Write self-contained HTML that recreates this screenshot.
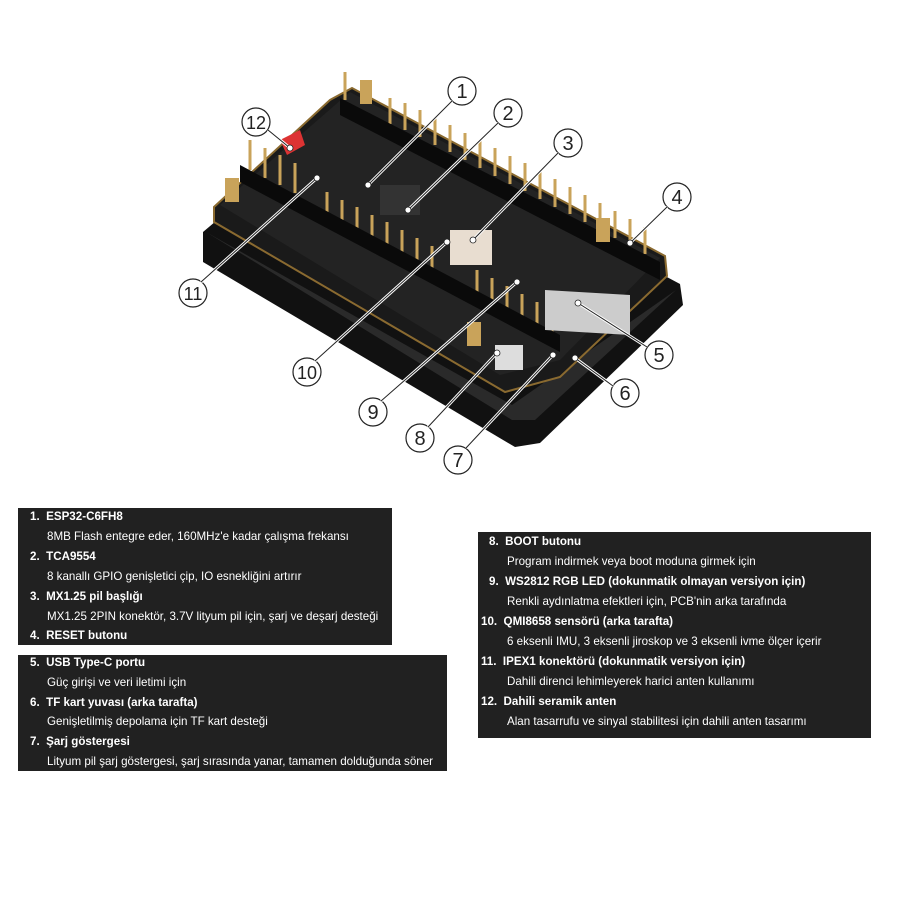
<!DOCTYPE html>
<html><head><meta charset="utf-8"><style>
body{margin:0;width:900px;height:900px;background:#fff;position:relative;overflow:hidden;font-family:"Liberation Sans",sans-serif}
.box{position:absolute;background:#212121}
.t{position:absolute;color:#fff;font-size:11.6px;white-space:nowrap;line-height:14px}
.b{font-weight:bold}
</style></head><body>
<svg width="900" height="500" style="position:absolute;left:0;top:0">
<polygon points="203,232 203,262 515,447 540,443 683,305 680,284 350,108" fill="#111"/>
<polygon points="206,232 512,420 535,420 676,290 512,405" fill="#2a2a2a"/>
<polygon points="214,207 214,222 505,392 560,377 667,276 665,256 352,88 330,100" fill="#1a1a1a" stroke="#8a6a30" stroke-width="2"/>
<polygon points="220,205 500,375 560,360 660,258 350,92" fill="#232323"/>
<g stroke="#c9a35a" stroke-width="3">
<line x1="345" y1="72" x2="345" y2="100"/><line x1="390" y1="98" x2="390" y2="124"/><line x1="405" y1="103" x2="405" y2="130"/><line x1="420" y1="110" x2="420" y2="137"/><line x1="435" y1="118" x2="435" y2="145"/><line x1="450" y1="125" x2="450" y2="152"/><line x1="465" y1="133" x2="465" y2="160"/><line x1="480" y1="140" x2="480" y2="168"/><line x1="495" y1="148" x2="495" y2="176"/><line x1="510" y1="156" x2="510" y2="184"/><line x1="525" y1="163" x2="525" y2="191"/><line x1="540" y1="171" x2="540" y2="199"/><line x1="555" y1="179" x2="555" y2="207"/><line x1="570" y1="187" x2="570" y2="214"/><line x1="585" y1="195" x2="585" y2="222"/><line x1="600" y1="203" x2="600" y2="230"/><line x1="615" y1="211" x2="615" y2="238"/><line x1="630" y1="219" x2="630" y2="246"/><line x1="645" y1="227" x2="645" y2="254"/>
<line x1="250" y1="140" x2="250" y2="170"/><line x1="265" y1="148" x2="265" y2="178"/><line x1="280" y1="155" x2="280" y2="185"/><line x1="295" y1="163" x2="295" y2="193"/><line x1="327" y1="192" x2="327" y2="222"/><line x1="342" y1="200" x2="342" y2="230"/><line x1="357" y1="207" x2="357" y2="237"/><line x1="372" y1="215" x2="372" y2="245"/><line x1="387" y1="222" x2="387" y2="252"/><line x1="402" y1="230" x2="402" y2="260"/><line x1="417" y1="238" x2="417" y2="268"/><line x1="432" y1="246" x2="432" y2="276"/><line x1="477" y1="270" x2="477" y2="300"/><line x1="492" y1="278" x2="492" y2="308"/><line x1="507" y1="286" x2="507" y2="316"/><line x1="522" y1="294" x2="522" y2="324"/><line x1="537" y1="302" x2="537" y2="332"/><line x1="552" y1="310" x2="552" y2="340"/>
</g>
<g fill="#0a0a0a">
<polygon points="340,98 660,262 660,280 340,115"/>
<polygon points="240,165 560,335 560,352 240,182"/>
</g>
<rect x="225" y="178" width="14" height="24" fill="#c9a35a"/><rect x="467" y="322" width="14" height="24" fill="#c9a35a"/><rect x="596" y="218" width="14" height="24" fill="#c9a35a"/><rect x="360" y="80" width="12" height="24" fill="#c9a35a"/>
<polygon points="280,140 300,130 305,145 287,155" fill="#d33"/>
<polygon points="545,290 630,295 630,335 545,330" fill="#ccc"/>
<rect x="450" y="230" width="42" height="35" fill="#e8ddd0"/>
<rect x="495" y="345" width="28" height="25" fill="#ddd"/>
<rect x="380" y="185" width="40" height="30" fill="#333"/>
<g fill="none" stroke="#222" stroke-width="1.2">
<circle cx="462" cy="91" r="14"/><circle cx="508" cy="113" r="14"/><circle cx="568" cy="143" r="14"/><circle cx="677" cy="197" r="14"/><circle cx="659" cy="355" r="14"/><circle cx="625" cy="393" r="14"/><circle cx="458" cy="460" r="14"/><circle cx="420" cy="438" r="14"/><circle cx="373" cy="412" r="14"/><circle cx="307" cy="372" r="14"/><circle cx="193" cy="293" r="14"/><circle cx="256" cy="122" r="14"/>
</g>
<g stroke="#fff" stroke-width="3"><line x1="452" y1="101" x2="368" y2="185"/><line x1="498" y1="123" x2="408" y2="210"/><line x1="558" y1="153" x2="473" y2="240"/><line x1="667" y1="207" x2="630" y2="243"/><line x1="647" y1="347" x2="578" y2="303"/><line x1="613" y1="386" x2="575" y2="358"/><line x1="466" y1="448" x2="553" y2="355"/><line x1="428" y1="427" x2="497" y2="353"/><line x1="381" y1="401" x2="517" y2="282"/><line x1="315" y1="361" x2="447" y2="242"/><line x1="201" y1="282" x2="317" y2="178"/><line x1="268" y1="130" x2="290" y2="148"/></g>
<g stroke="#222" stroke-width="1"><line x1="452" y1="101" x2="368" y2="185"/><line x1="498" y1="123" x2="408" y2="210"/><line x1="558" y1="153" x2="473" y2="240"/><line x1="667" y1="207" x2="630" y2="243"/><line x1="647" y1="347" x2="578" y2="303"/><line x1="613" y1="386" x2="575" y2="358"/><line x1="466" y1="448" x2="553" y2="355"/><line x1="428" y1="427" x2="497" y2="353"/><line x1="381" y1="401" x2="517" y2="282"/><line x1="315" y1="361" x2="447" y2="242"/><line x1="201" y1="282" x2="317" y2="178"/><line x1="268" y1="130" x2="290" y2="148"/></g>
<g fill="#fff" stroke="#222" stroke-width="0.8"><circle cx="368" cy="185" r="3"/><circle cx="408" cy="210" r="3"/><circle cx="473" cy="240" r="3"/><circle cx="630" cy="243" r="3"/><circle cx="578" cy="303" r="3"/><circle cx="575" cy="358" r="3"/><circle cx="553" cy="355" r="3"/><circle cx="497" cy="353" r="3"/><circle cx="517" cy="282" r="3"/><circle cx="447" cy="242" r="3"/><circle cx="317" cy="178" r="3"/><circle cx="290" cy="148" r="3"/></g>
<g font-family="Liberation Sans" font-size="20" fill="#222" text-anchor="middle">
<text x="462" y="98">1</text><text x="508" y="120">2</text><text x="568" y="150">3</text><text x="677" y="204">4</text><text x="659" y="362">5</text><text x="625" y="400">6</text><text x="458" y="467">7</text><text x="420" y="445">8</text><text x="373" y="419">9</text><text x="307" y="379" font-size="18">10</text><text x="193" y="300" font-size="18">11</text><text x="256" y="129" font-size="18">12</text>
</g>
</svg>
<div class="box" style="left:18px;top:508px;width:374px;height:137px"></div>
<div class="box" style="left:18px;top:655px;width:429px;height:116px"></div>
<div class="box" style="left:478px;top:532px;width:393px;height:206px"></div>
<div class="t b" style="left:30px;top:510px">1.&nbsp;&nbsp;ESP32-C6FH8</div>
<div class="t" style="left:47px;top:530px">8MB Flash entegre eder, 160MHz'e kadar çalışma frekansı</div>
<div class="t b" style="left:30px;top:550px">2.&nbsp;&nbsp;TCA9554</div>
<div class="t" style="left:47px;top:570px">8 kanallı GPIO genişletici çip, IO esnekliğini artırır</div>
<div class="t b" style="left:30px;top:590px">3.&nbsp;&nbsp;MX1.25 pil başlığı</div>
<div class="t" style="left:47px;top:610px">MX1.25 2PIN konektör, 3.7V lityum pil için, şarj ve deşarj desteği</div>
<div class="t b" style="left:30px;top:629px">4.&nbsp;&nbsp;RESET butonu</div>
<div class="t b" style="left:30px;top:656px">5.&nbsp;&nbsp;USB Type-C portu</div>
<div class="t" style="left:47px;top:676px">Güç girişi ve veri iletimi için</div>
<div class="t b" style="left:30px;top:696px">6.&nbsp;&nbsp;TF kart yuvası (arka tarafta)</div>
<div class="t" style="left:47px;top:715px">Genişletilmiş depolama için TF kart desteği</div>
<div class="t b" style="left:30px;top:735px">7.&nbsp;&nbsp;Şarj göstergesi</div>
<div class="t" style="left:47px;top:755px">Lityum pil şarj göstergesi, şarj sırasında yanar, tamamen dolduğunda söner</div>
<div class="t b" style="left:489px;top:535px">8.&nbsp;&nbsp;BOOT butonu</div>
<div class="t" style="left:507px;top:555px">Program indirmek veya boot moduna girmek için</div>
<div class="t b" style="left:489px;top:575px">9.&nbsp;&nbsp;WS2812 RGB LED (dokunmatik olmayan versiyon için)</div>
<div class="t" style="left:507px;top:595px">Renkli aydınlatma efektleri için, PCB'nin arka tarafında</div>
<div class="t b" style="left:481px;top:615px">10.&nbsp;&nbsp;QMI8658 sensörü (arka tarafta)</div>
<div class="t" style="left:507px;top:635px">6 eksenli IMU, 3 eksenli jiroskop ve 3 eksenli ivme ölçer içerir</div>
<div class="t b" style="left:481px;top:655px">11.&nbsp;&nbsp;IPEX1 konektörü (dokunmatik versiyon için)</div>
<div class="t" style="left:507px;top:675px">Dahili direnci lehimleyerek harici anten kullanımı</div>
<div class="t b" style="left:481px;top:695px">12.&nbsp;&nbsp;Dahili seramik anten</div>
<div class="t" style="left:507px;top:715px">Alan tasarrufu ve sinyal stabilitesi için dahili anten tasarımı</div>
</body></html>
